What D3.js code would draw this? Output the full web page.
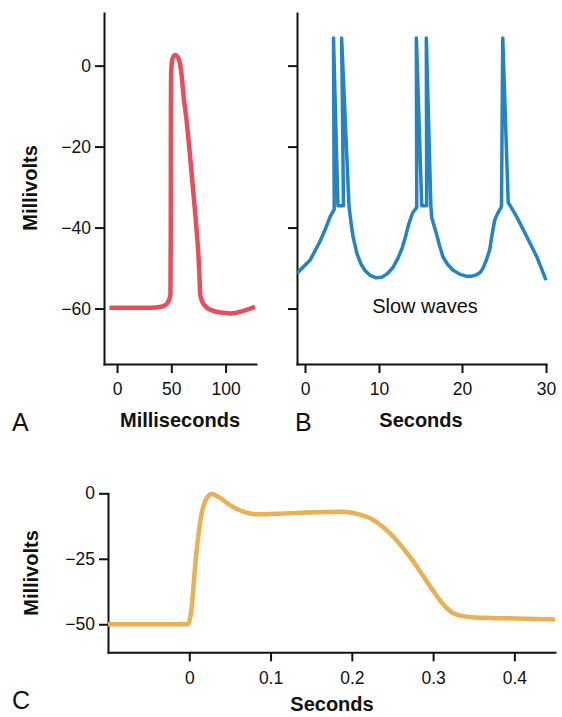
<!DOCTYPE html>
<html>
<head>
<meta charset="utf-8">
<script src="https://cdn.jsdelivr.net/npm/d3@7"></script>
<style>
  body { margin: 0; background: #fff; }
  svg text { font-family: "Liberation Sans", Arial, Helvetica, sans-serif; fill: #111; }
  .axis path, .axis line { stroke: #111; stroke-width: 2; }
  .axis text { font-size: 17.5px; }
  .title { font-size: 20px; font-weight: bold; }
  .panel { font-size: 25px; }
</style>
</head>
<body>
<div class="chart"></div>
<script>
// Panel A: single action potential (ms, mV)
var aTime = [-7, 30, 42, 47, 49.2, 49.5, 49.6, 49.8, 50.8, 52.3, 54, 55.7, 57.1, 59.3, 61, 64, 67, 70, 73, 75, 76, 76.6, 78.5, 82, 88, 95, 105, 115, 127];
var aVolt = [-59.8, -59.8, -59.5, -58.4, -56.5, -40, -10, -2, 1.4, 2.4, 2.6, 2.2, 1.4, -1.9, -6.8, -13.4, -21.6, -30.5, -39.7, -47, -52.5, -56.5, -58.3, -59.6, -60.5, -61, -61.2, -60.7, -59.6];

// Panel B: slow waves with spikes (s, mV)
var bTime = [-1, 0.7, 2.0, 2.7, 3.4, 3.95, 3.85, 4.45, 5.2, 4.95, 5.95, 6.2, 6.5, 7.0, 7.5, 8.1, 8.8, 9.6, 10.3, 11.0, 11.7, 12.3, 12.8, 13.2, 13.6, 14.05, 14.55, 14.5, 15.15, 15.75, 15.7, 16.25, 16.35, 16.9, 17.3, 17.7, 18.3, 18.9, 19.7, 20.5, 21.2, 21.7, 22.2, 22.5, 22.9, 23.3, 23.6, 23.9, 24.3, 24.7, 24.85, 25.5, 26.0, 26.5, 27.7, 28.9, 30];
var bVolt = [-51.3, -48, -43.5, -40.6, -37.3, -35.5, 6.8, -34.6, -34.6, 6.8, -34.8, -38.5, -42.3, -46.3, -48.8, -50.6, -51.8, -52.4, -52.3, -51.4, -49.8, -47.5, -45, -42.2, -39, -36.4, -35, 6.8, -34.6, -34.6, 6.8, -34.8, -37.5, -41.4, -44.5, -47.2, -49.2, -50.5, -51.5, -52, -52, -51.7, -51, -50, -48, -45.5, -41.5, -38.1, -36.3, -34.8, 6.8, -33.8, -35.5, -37.3, -42.2, -47.2, -53];

// Panel C: plateau potential (s, mV)
var cTime = [-0.1, -0.002, 0.002, 0.0083, 0.0153, 0.0214, 0.0276, 0.0357, 0.05, 0.0665, 0.081, 0.124, 0.186, 0.218, 0.247, 0.272, 0.297, 0.313, 0.325, 0.341, 0.37, 0.403, 0.45];
var cVolt = [-50, -50, -46, -24, -7.6, -1.9, -0.3, -1.3, -4.5, -7, -8, -7.6, -7.0, -8.9, -15.3, -24.5, -35.8, -42.6, -45.8, -47.1, -47.6, -47.8, -48.2];

var abYTicks = [0, -20, -40, -60];
var aXTicks = [0, 50, 100];
var bXTicks = [0, 10, 20, 30];
var cYTicks = [0, -25, -50];
var cXTicks = [0, 0.1, 0.2, 0.3, 0.4];

var svg = d3.select(".chart")
  .append("svg")
  .attr("width", 562)
  .attr("height", 717);

function zip(xs, ys) {
  return xs.map(function(x, i) { return [x, ys[i]]; });
}

// scales
var xA = d3.scaleLinear().domain([-12, 128]).range([104, 256]);
var yAB = d3.scaleLinear().domain([-73.7, 13]).range([364, 13]);
var xB = d3.scaleLinear().domain([-1, 0, 10, 20, 30]).range([297, 305, 379, 462, 546]);
var xC = d3.scaleLinear().domain([-0.1, 0.45]).range([108, 555]);
var yC = d3.scaleLinear().domain([-60.7, 0]).range([652.3, 493.3]);

function drawAxes(x, y, xTicks, yTicks, showYLabels) {
  var yAxis = d3.axisLeft(y)
    .tickValues(yTicks)
    .tickSize(9)
    .tickSizeOuter(0)
    .tickPadding(4);
  if (!showYLabels) yAxis.tickFormat("");
  svg.append("g")
    .attr("class", "axis")
    .attr("transform", "translate(" + x.range()[0] + ",0)")
    .call(yAxis);

  svg.append("g")
    .attr("class", "axis")
    .attr("transform", "translate(0," + y.range()[0] + ")")
    .call(d3.axisBottom(x)
      .tickValues(xTicks)
      .tickFormat(d3.format("~g"))
      .tickSize(9)
      .tickSizeOuter(0)
      .tickPadding(10));
}

drawAxes(xA, yAB, aXTicks, abYTicks, true);
drawAxes(xB, yAB, bXTicks, abYTicks, false);
drawAxes(xC, yC, cXTicks, cYTicks, true);

svg.selectAll(".axis .domain").attr("stroke-linecap", "square");

// lines
var lineA = d3.line()
  .x(d => xA(d[0]))
  .y(d => yAB(d[1]))
  .curve(d3.curveMonotoneX);

var lineB = d3.line()
  .x(d => xB(d[0]))
  .y(d => yAB(d[1]));

var lineC = d3.line()
  .x(d => xC(d[0]))
  .y(d => yC(d[1]))
  .curve(d3.curveMonotoneX);

svg.append("path")
  .attr("d", lineA(zip(aTime, aVolt)))
  .attr("fill", "none")
  .attr("stroke", "#e84d5b")
  .attr("stroke-width", 4.5)
  .attr("stroke-linejoin", "round");

svg.append("path")
  .attr("d", lineB(zip(bTime, bVolt)))
  .attr("fill", "none")
  .attr("stroke", "#2383c4")
  .attr("stroke-width", 3.5)
  .attr("stroke-linejoin", "round");

svg.append("path")
  .attr("d", lineC(zip(cTime, cVolt)))
  .attr("fill", "none")
  .attr("stroke", "#e9b056")
  .attr("stroke-width", 4.5)
  .attr("stroke-linejoin", "round");

// labels
svg.append("text")
  .attr("class", "title")
  .attr("transform", "translate(37,188) rotate(-90)")
  .attr("text-anchor", "middle")
  .text("Millivolts");

svg.append("text")
  .attr("class", "title")
  .attr("transform", "translate(38,573) rotate(-90)")
  .attr("text-anchor", "middle")
  .text("Millivolts");

svg.append("text").attr("class", "title")
  .attr("x", 180).attr("y", 427).attr("text-anchor", "middle")
  .text("Milliseconds");

svg.append("text").attr("class", "title")
  .attr("x", 421).attr("y", 427).attr("text-anchor", "middle")
  .text("Seconds");

svg.append("text").attr("class", "title")
  .attr("x", 332).attr("y", 711).attr("text-anchor", "middle")
  .text("Seconds");

svg.append("text")
  .attr("x", 425).attr("y", 313)
  .attr("text-anchor", "middle")
  .style("font-size", "20px")
  .text("Slow waves");

svg.append("text").attr("class", "panel").attr("x", 12).attr("y", 431).text("A");
svg.append("text").attr("class", "panel").attr("x", 295).attr("y", 431).text("B");
svg.append("text").attr("class", "panel").attr("x", 12).attr("y", 709).text("C");
</script>
</body>
</html>
